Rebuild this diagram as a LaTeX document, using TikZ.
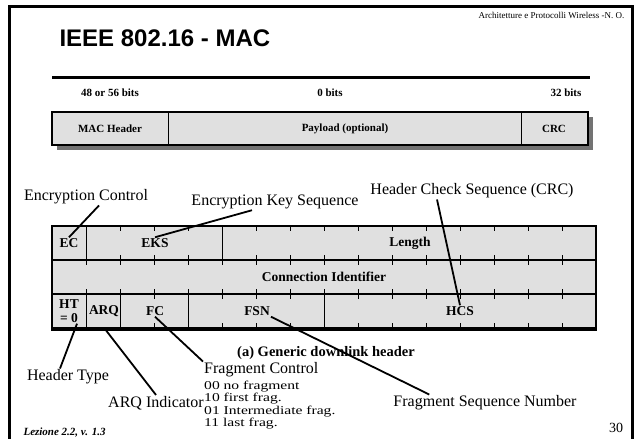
\documentclass[tikz,border=0pt]{standalone}
\usepackage{fontspec}
\setmainfont{Liberation Serif}
\newfontfamily\titlefont{Liberation Sans}
\newfontfamily\subfont[FakeStretch=1.3]{Liberation Serif}
\definecolor{cellgray}{gray}{0.88}
\definecolor{shadowgray}{gray}{0.45}
\newcommand{\fieldfont}{\fontsize{13.5}{15}\selectfont\bfseries}

\begin{document}
\begin{tikzpicture}[x=1pt,y=-1pt,
  field/.style={font=\fieldfont, inner sep=1pt},
  bits/.style={font=\fontsize{11}{13}\selectfont\bfseries, inner sep=1pt},
  note/.style={font=\fontsize{16}{18}\selectfont, inner sep=1pt},
  pointer/.style={line width=1.8pt},
  divider/.style={line width=0.7pt}]
\useasboundingbox (0,0) rectangle (638,439);
% Slide frame
\draw[line width=3pt] (9,450) -- (9,6) -- (632,6) -- (632,450);
\node[anchor=east, font=\fontsize{9}{11}\selectfont] (hdr) at (628,15) {Architetture e Protocolli Wireless -N. O.};
\node[anchor=west, font=\titlefont\fontsize{24}{28}\selectfont\bfseries] (title) at (56,38) {IEEE 802.16 - MAC};
\draw[line width=3pt] (52,77) -- (590,77);
% MAC PDU
\node[bits] (hbits) at (110,93) {48 or 56 bits};
\node[bits] (pbits) at (330,93) {0 bits};
\node[bits] (cbits) at (566,93) {32 bits};
\fill[shadowgray] (57,117) rectangle (593,150);
\fill[cellgray] (52,112) rectangle (588,145);
\draw[divider] (168,112) -- (168,145);
\draw[divider] (521,112) -- (521,145);
\draw[line width=2.2pt] (52,112) rectangle (588,145);
\node[bits] (machdr) at (110,128.5) {MAC Header};
\node[bits] (payload) at (345,128.5) {Payload (optional)};
\node[bits] (crc) at (554,128.5) {CRC};
% Generic header, 16 bits per row
\fill[cellgray] (52,226) rectangle (596,328);
\foreach \r in {226,260,294} {
  \foreach \b in {1,...,15} {
    \draw[divider] (52+34*\b,\r) -- (52+34*\b,\r+5);
    \draw[divider] (52+34*\b,\r+29) -- (52+34*\b,\r+34);
  }
}
\foreach \b in {1,5} \draw[divider] (52+34*\b,226) -- (52+34*\b,260);
\foreach \b in {1,2,4,8} \draw[divider] (52+34*\b,294) -- (52+34*\b,328);
\draw[line width=2.2pt] (52,260) -- (596,260);
\draw[line width=2.2pt] (52,294) -- (596,294);
\draw[line width=2.2pt] (52,226) rectangle (596,328);
\draw[line width=3pt] (51,329) -- (597,329);
\node[field] (ec) at (69,243) {EC};
\node[field] (eks) at (155,243) {EKS};
\node[field] (len) at (410,243) {Length};
\node[field] (cid) at (324,277) {Connection Identifier};
\node[field, align=center, font=\fontsize{13.5}{14}\selectfont\bfseries] (ht) at (69,311) {HT\\= 0};
\node[field] (arq) at (104,311) {ARQ};
\node[field] (fc) at (155,311) {FC};
\node[field] (fsn) at (257,311) {FSN};
\node[field] (hcs) at (460,311) {HCS};
\node[field, font=\fontsize{14.5}{16}\selectfont\bfseries] (caption) at (326,353) {(a) Generic downlink header};
% Field names
\node[note] (encctl) at (86,197) {Encryption Control};
\node[note] (enckey) at (275,202) {Encryption Key Sequence};
\node[note] (hcsnote) at (472,191) {Header Check Sequence (CRC)};
\node[note] (htnote) at (68,377) {Header Type};
\node[note] (arqnote) at (156,403) {ARQ Indicator};
\node[note, anchor=west] (fcnote) at (203,370) {Fragment Control};
\node[anchor=north west, inner sep=0pt, align=left, font=\subfont\fontsize{12}{12.3}\selectfont] (fcsub) at (204,381)
  {00 no fragment\\10 first frag.\\01 Intermediate frag.\\11 last frag.};
\node[note] (fsnnote) at (485,403) {Fragment Sequence Number};
\draw[pointer] ([xshift=13pt]encctl.south) -- (ec.north);
\draw[pointer] ([xshift=-23pt]enckey.south) -- (eks.north);
\draw[pointer] ([xshift=-35pt]hcsnote.south) -- (hcs.north);
\draw[pointer] ([xshift=-8pt]htnote.north) -- ([xshift=8pt]ht.south);
\draw[pointer] (arqnote.north) -- ([yshift=-10pt]arq.south);
\draw[pointer] (fc.south) -- (fcnote.north west);
\draw[pointer] (fsn.south east) -- ([xshift=37pt]fsnnote.north west);
% Footer
\node[anchor=west, font=\fontsize{11}{13}\selectfont\bfseries\itshape] (lez) at (20,433) {Lezione 2.2, v. 1.3};
\node[font=\fontsize{14}{16}\selectfont] (pagenum) at (616,428) {30};
\end{tikzpicture}
\end{document}
